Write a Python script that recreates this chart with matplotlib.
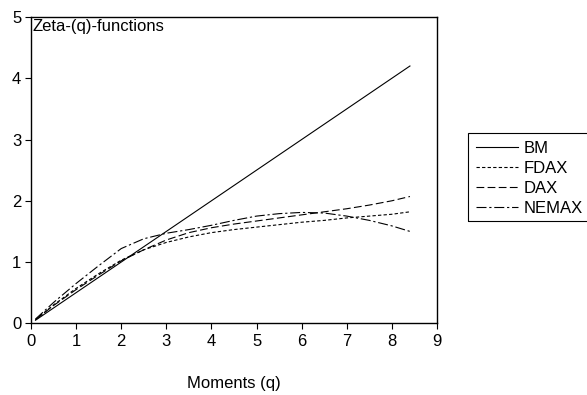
import matplotlib
matplotlib.use("Agg")
import matplotlib.pyplot as plt
from matplotlib.patches import Rectangle

plt.rcParams["font.family"] = ["Liberation Sans", "DejaVu Sans"]
plt.rcParams["font.size"] = 12

# moments q and estimated scaling exponents zeta(q)
Q = [0.1, 0.5, 1.0, 1.5, 2.0, 2.5, 3.0, 3.5, 4.0, 4.5, 5.0, 5.5, 6.0, 6.5, 7.0, 7.5, 8.0, 8.4]
BM = [q / 2 for q in Q]
FDAX = [0.06, 0.30, 0.57, 0.81, 1.03, 1.20, 1.32, 1.41, 1.48, 1.53, 1.57, 1.61, 1.65, 1.68, 1.72, 1.75, 1.78, 1.82]
DAX = [0.06, 0.29, 0.55, 0.79, 1.02, 1.20, 1.36, 1.48, 1.56, 1.62, 1.67, 1.72, 1.77, 1.82, 1.87, 1.93, 2.00, 2.07]
NEMAX = [0.07, 0.34, 0.65, 0.94, 1.22, 1.38, 1.47, 1.53, 1.60, 1.68, 1.75, 1.79, 1.81, 1.80, 1.75, 1.68, 1.59, 1.50]

SERIES = [
    ("BM", BM, "-"),
    ("FDAX", FDAX, (0, (3, 2))),
    ("DAX", DAX, (0, (7, 3))),
    ("NEMAX", NEMAX, (0, (9, 2.5, 2, 2.5))),
]

W, H = 587, 395
fig = plt.figure(figsize=(W / 100, H / 100), dpi=100)
ax = fig.add_axes([31 / W, 1 - 323.3 / H, 406 / W, 306.3 / H])

for name, values, style in SERIES:
    ax.plot(Q, values, color="black", linestyle=style, linewidth=0.8, label=name)

ax.set_xlim(0, 9)
ax.set_ylim(0, 5)
ax.set_xticks(range(0, 10))
ax.set_yticks(range(0, 6))
ax.tick_params(direction="out", length=4, width=0.8, pad=3)
ax.tick_params(axis="x", pad=4)
for spine in ax.spines.values():
    spine.set_linewidth(1.0)

ax.text(0.004, 0.995, "Zeta-(q)-functions", transform=ax.transAxes, ha="left", va="top")
ax.set_xlabel("Moments (q)", labelpad=19)

# legend entries, with a box that runs off the right edge of the figure
fig.legend(
    loc="upper left", bbox_to_anchor=(468 / W, 1 - 133 / H), frameon=False,
    handlelength=2.5, handletextpad=0.35, labelspacing=0.29,
    borderpad=0.5, borderaxespad=0,
)
fig.add_artist(Rectangle((468 / W, 1 - 221 / H), 160 / W, 88 / H,
                         transform=fig.transFigure, fill=False,
                         edgecolor="black", linewidth=0.8))

fig.savefig("out.png", dpi=100)
